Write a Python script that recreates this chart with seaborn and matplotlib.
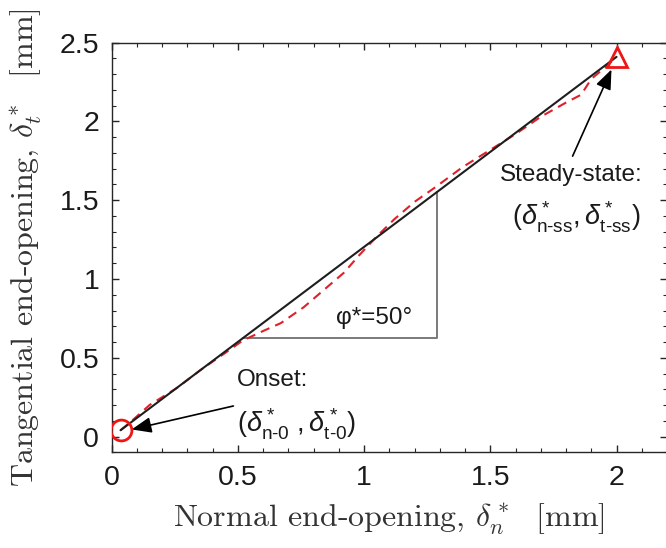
import numpy as np
import pandas as pd
import matplotlib
matplotlib.use("Agg")
import matplotlib.pyplot as plt
import seaborn as sns

# Measured end-opening path (normal vs tangential), mm
path_dn = [0.035, 0.08, 0.15, 0.26, 0.35, 0.44, 0.52, 0.60, 0.67, 0.76, 0.84,
           0.92, 0.98, 1.05, 1.12, 1.20, 1.28, 1.39, 1.50, 1.60, 1.70, 1.80,
           1.86, 1.90, 1.96, 2.00]
path_dt = [0.04, 0.10, 0.20, 0.31, 0.42, 0.52, 0.61, 0.67, 0.72, 0.82, 0.93,
           1.04, 1.15, 1.27, 1.38, 1.49, 1.58, 1.71, 1.82, 1.92, 2.03, 2.12,
           2.17, 2.27, 2.35, 2.41]

# Onset and steady-state points (mm)
onset = (0.035, 0.04)
steady = (2.00, 2.41)

# Horizontal extent of the slope triangle
slope_x = [0.52, 1.287]
angle_label = "φ*=50°"

x_ticks = [0, 0.5, 1, 1.5, 2]
y_ticks = [0, 0.5, 1, 1.5, 2, 2.5]

sns.set_theme(style="white")
plt.rcParams.update({
    "font.family": ["Liberation Sans", "DejaVu Sans"],
    "mathtext.fontset": "custom",
    "mathtext.rm": "Liberation Sans",
    "mathtext.it": "Liberation Sans:italic",
    "mathtext.bf": "Liberation Sans:bold",
    "xtick.direction": "in",
    "ytick.direction": "in",
})

fig = plt.figure(figsize=(6.66, 5.48), dpi=100)
ax = fig.add_axes([111.7 / 666, 95.7 / 548, 555.3 / 666, 409.6 / 548])

df_path = pd.DataFrame({"dn": path_dn, "dt": path_dt})
df_fit = pd.DataFrame({"dn": [onset[0], steady[0]], "dt": [onset[1], steady[1]]})

# Straight onset -> steady-state line
sns.lineplot(data=df_fit, x="dn", y="dt", ax=ax, color="#1e1e1e", lw=1.5,
             sort=False, zorder=3)
# Measured path
sns.lineplot(data=df_path, x="dn", y="dt", ax=ax, color="#e0202a", lw=1.5,
             sort=False, dashes=False, zorder=2)
ax.lines[-1].set_dashes((4.5, 3))

# Slope triangle built on the straight line
slope = (steady[1] - onset[1]) / (steady[0] - onset[0])
tri_y = [onset[1] + slope * (x - onset[0]) for x in slope_x]
ax.plot([slope_x[0], slope_x[1], slope_x[1]], [tri_y[0], tri_y[0], tri_y[1]],
        color="#7a7a7a", lw=1.4, zorder=1)
ax.text(0.89, 0.755, angle_label, fontsize=17.5, va="center", ha="left",
        color="#1a1a1a")

# End-point markers
ax.plot([onset[0]], [onset[1]], marker="o", ms=15, mfc="none", mec="#f01515",
        mew=2.0, ls="none", zorder=4)
ax.plot([steady[0]], [steady[1]], marker="^", ms=15, mfc="none", mec="#f01515",
        mew=2.0, ls="none", zorder=4)

arrow = dict(arrowstyle="-|>,head_length=1.0,head_width=0.4", color="black",
             lw=1.2, shrinkA=0, shrinkB=0)
ax.annotate("", xy=(0.079, 0.045), xytext=(0.482, 0.194), arrowprops=arrow)
ax.annotate("", xy=(1.98, 2.33), xytext=(1.826, 1.78), arrowprops=arrow)

ax.text(0.495, 0.36, "Onset:", fontsize=17.5, va="center", ha="left",
        color="#1a1a1a")
ax.text(0.495, 0.075,
        r"$(\delta^*_{\mathrm{n}\text{-}\mathrm{0}}\ ,\delta^*_{\mathrm{t}\text{-}\mathrm{0}})$",
        fontsize=19.5, va="center", ha="left", color="#1a1a1a")
ax.text(1.538, 1.66, "Steady-state:", fontsize=17.5, va="center", ha="left",
        color="#1a1a1a")
ax.text(1.585, 1.39,
        r"$(\delta^*_{\mathrm{n}\text{-}\mathrm{ss}},\delta^*_{\mathrm{t}\text{-}\mathrm{ss}})$",
        fontsize=19.5, va="center", ha="left", color="#1a1a1a")

ax.set_xlim(0, 2.2)
ax.set_ylim(-0.1, 2.5)
ax.set_xticks(x_ticks)
ax.set_yticks(y_ticks)
ax.set_xticklabels([f"{v:g}" for v in x_ticks])
ax.set_yticklabels([f"{v:g}" for v in y_ticks])
ax.xaxis.set_minor_locator(matplotlib.ticker.MultipleLocator(0.1))
ax.yaxis.set_minor_locator(matplotlib.ticker.MultipleLocator(0.1))
ax.tick_params(which="both", top=True, right=True, bottom=True, left=True,
               colors="#262626", labelsize=20.5, labelcolor="#1a1a1a")
ax.tick_params(which="major", length=5, width=1.0, pad=9)
ax.tick_params(which="minor", length=3, width=0.8)
for s in ax.spines.values():
    s.set_color("#262626")
    s.set_linewidth(1.0)

ax.set_xlabel(r"Normal end-opening, $\delta_n^*$  [mm]", fontsize=23,
              family="cmr10", math_fontfamily="cm", color="#333333", labelpad=8)
ax.set_ylabel(r"Tangential end-opening, $\delta_t^*$  [mm]", fontsize=23,
              family="cmr10", math_fontfamily="cm", color="#333333", labelpad=11)

fig.savefig("out.png", dpi=100)
